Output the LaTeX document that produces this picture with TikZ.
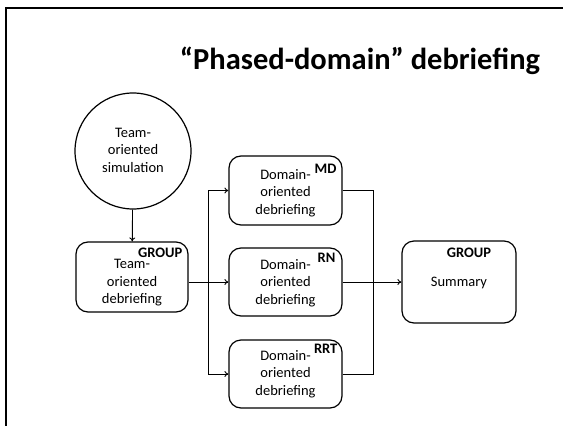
\documentclass[tikz,border=0pt]{standalone}
\usepackage{fontspec}
\setmainfont{Carlito}
\usetikzlibrary{arrows.meta}
\begin{document}
\begin{tikzpicture}[x=1pt,y=-1pt,
  box/.style={draw,line width=1.2pt,rounded corners=12pt,inner sep=0pt},
  body/.style={align=center,font=\fontsize{14.5}{17.5}\selectfont,inner sep=0pt},
  tag/.style={font=\fontsize{14.5}{16}\selectfont\bfseries,inner sep=0pt},
  conn/.style={line width=0.9pt},
  arr/.style={conn,-{To[length=4pt,width=6pt]}}]
\useasboundingbox (0,0) rectangle (563,426);
% slide frame
\draw[line width=2.2pt] (563,8) -- (6,8) -- (6,426);
% title
\node[font=\fontsize{30.5}{34}\selectfont\bfseries,inner sep=0pt] (title) at (360,61) {“Phased-domain” debriefing};

% simulation
\node[draw,line width=1.2pt,circle,minimum size=116pt,inner sep=0pt] (sim) at (133,151) {};
\node[body] (simtxt) at (133,150) {Team-\\oriented\\simulation};

% group debriefing
\node[box,minimum width=112pt,minimum height=70pt] (team) at (132,277) {};
\node[body] (teamtxt) at (132,283) {Team-\\oriented\\debriefing};
\node[tag,anchor=north east] (teamtag) at ([xshift=-6pt,yshift=-6pt]team.north east) {GROUP};

% domain debriefings
\node[box,minimum width=113pt,minimum height=69pt] (md) at (285.5,190.5) {};
\node[body] (mdtxt) at (285.5,193) {Domain-\\oriented\\debriefing};
\node[tag,anchor=north east] (mdtag) at ([xshift=-6pt,yshift=-8pt]md.north east) {MD};

\node[box,minimum width=113pt,minimum height=68pt] (rn) at (285.5,282) {};
\node[body] (rntxt) at (285.5,283) {Domain-\\oriented\\debriefing};
\node[tag,anchor=north east] (rntag) at ([xshift=-7pt,yshift=-5pt]rn.north east) {RN};

\node[box,minimum width=113pt,minimum height=68pt] (rrt) at (285.5,374) {};
\node[body] (rrttxt) at (285.5,374) {Domain-\\oriented\\debriefing};
\node[tag,anchor=north east] (rrttag) at ([xshift=-5pt,yshift=-4pt]rrt.north east) {RRT};

% summary
\node[box,minimum width=114pt,minimum height=82pt] (sum) at (459,282) {};
\node[body] (sumtxt) at (459,283) {Summary};
\node[tag] (sumtag) at (469,253) {GROUP};

% connectors
\coordinate (split) at (208,282);
\coordinate (merge) at (373,282);
\draw[arr] (sim) -- (team);
\draw[conn] (team.east |- split) -- (split);
\draw[arr] (split) -- (rn.west |- split);
\draw[arr] (split) |- (md.west);
\draw[arr] (split) |- (rrt.west);
\draw[conn] (md.east) -| (merge);
\draw[conn] (rrt.east) -| (merge);
\draw[arr] (rn.east |- merge) -- (sum.west |- merge);
\end{tikzpicture}
\end{document}
